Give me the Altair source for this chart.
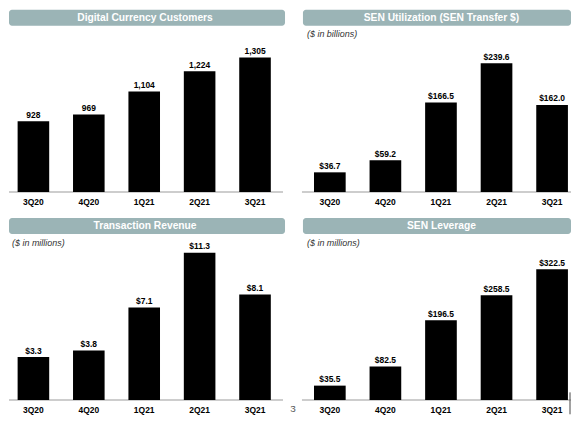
import altair as alt
import pandas as pd

quarters = ["3Q20", "4Q20", "1Q21", "2Q21", "3Q21"]
customers = [928, 969, 1104, 1224, 1305]
sen_transfer = [36.7, 59.2, 166.5, 239.6, 162.0]
transaction_revenue = [3.3, 3.8, 7.1, 11.3, 8.1]
sen_leverage = [35.5, 82.5, 196.5, 258.5, 322.5]

titles = ["Digital Currency Customers", "SEN Utilization (SEN Transfer $)",
          "Transaction Revenue", "SEN Leverage"]
subtitles = ["", "($ in billions)", "($ in millions)", "($ in millions)"]

FONT = "Liberation Sans"
HEADER = "#9bb4b6"
BASE = "#bdbdbd"


def make_df(vals, dollar):
    labels = [("$%.1f" % v) if dollar else f"{v:,}" for v in vals]
    return pd.DataFrame({"q": quarters, "v": vals, "label": labels})


def panel(df, title, subtitle, w, h, hx, hy, tx, ty, sx, sy, band, ydom, yrng,
          basex, labely, extras=None):
    xs = alt.X("q:N", sort=quarters, axis=None,
               scale=alt.Scale(domain=quarters, range=band,
                               paddingInner=0.43, paddingOuter=0.215))
    ys = alt.Y("v:Q", axis=None,
               scale=alt.Scale(domain=ydom, range=yrng, zero=False, nice=False,
                               clamp=True))
    one = pd.DataFrame({"t": [title], "s": [subtitle]})
    header = alt.Chart(one).mark_rect(color=HEADER, cornerRadius=3).encode(
        x=alt.value(hx[0]), x2=alt.value(hx[1]),
        y=alt.value(hy[0]), y2=alt.value(hy[1]))
    htext = alt.Chart(one).mark_text(
        font=FONT, fontSize=10.3, fontWeight="bold", color="white",
        baseline="middle", align="center").encode(
        x=alt.value(tx), y=alt.value(ty), text="t:N")
    layers = [header, htext]
    if subtitle:
        layers.append(alt.Chart(one).mark_text(
            font=FONT, fontSize=9, fontStyle="italic", color="#333333",
            baseline="middle", align="left").encode(
            x=alt.value(sx), y=alt.value(sy), text="s:N"))
    base = alt.Chart(one).mark_rule(color=BASE, strokeWidth=1.5).encode(
        x=alt.value(basex[0]), x2=alt.value(basex[1]), y=alt.value(yrng[0]))
    bars = alt.Chart(df).mark_bar(color="black").encode(
        x=xs, y=ys, y2=alt.datum(ydom[0]))
    vlabels = alt.Chart(df).mark_text(
        font=FONT, fontSize=8.5, fontWeight="bold", color="black",
        baseline="alphabetic", dy=-3.5).encode(x=xs, y=ys, text="label:N")
    xlabels = alt.Chart(df).mark_text(
        font=FONT, fontSize=8.5, fontWeight="bold", color="black",
        baseline="middle").encode(x=xs, y=alt.value(labely), text="q:N")
    layers += [base, bars, vlabels, xlabels]
    if extras:
        layers += extras
    return alt.layer(*layers).properties(width=w, height=h)


p1 = panel(make_df(customers, False), titles[0], subtitles[0], 282, 202,
           (0, 277), (1, 17), 136.5, 9.5, 0, 0, [-3.3, 274.7],
           [510, 1305], [184, 49], (0, 275), 194)
p2 = panel(make_df(sen_transfer, True), titles[1], subtitles[1], 282, 202,
           (13, 282), (1, 17), 152, 9.5, 17, 25, [12.1, 290.9],
           [0, 239.6], [184, 54.7], (12, 282), 194)

one = pd.DataFrame({"n": ["3"]})
page_no = alt.Chart(one).mark_text(font=FONT, fontSize=10, color="#555555",
                                   baseline="bottom").encode(
    x=alt.value(3), y=alt.value(205), text="n:N")
vline = alt.Chart(one).mark_rule(color="#444444", strokeWidth=1).encode(
    x=alt.value(281), y=alt.value(183), y2=alt.value(205))

p3 = panel(make_df(transaction_revenue, True), titles[2], subtitles[2], 282, 205,
           (0, 277), (8, 24), 136.5, 16.3, 3, 33, [-3.3, 274.7],
           [0, 11.3], [190.7, 43], (0, 275), 200.7)
p4 = panel(make_df(sen_leverage, True), titles[3], subtitles[3], 282, 205,
           (13, 282), (8, 24), 152, 16.3, 17, 33, [12.1, 290.9],
           [0, 322.5], [190.7, 59.4], (12, 282), 200.7,
           extras=[page_no, vline])

chart = alt.concat(
    p1, p2, p3, p4, columns=2, spacing=0, bounds="flush",
).properties(padding=0).configure_view(strokeWidth=0)

chart.save("out.html", embed_options={"renderer": "svg", "actions": False})
